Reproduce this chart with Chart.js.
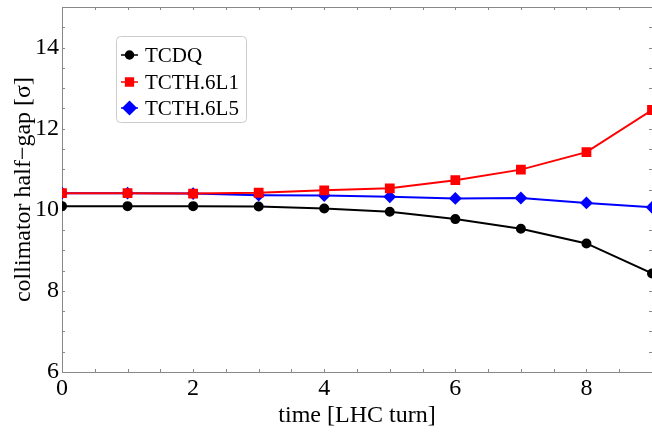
<!DOCTYPE html>
<html>
<head>
<meta charset="utf-8">
<script src="https://cdn.jsdelivr.net/npm/chart.js@4/dist/chart.umd.min.js"></script>
<style>
  html, body { margin: 0; padding: 0; background: #fff; overflow: hidden; }
  canvas { display: block; }
</style>
</head>
<body>
<canvas id="chart" width="652" height="433"></canvas>
<script>
const turns = [0, 1, 2, 3, 4, 5, 6, 7, 8, 9];
const tcdq = [10.09, 10.09, 10.09, 10.08, 10.03, 9.95, 9.77, 9.53, 9.17, 8.43];
const tcth6L1 = [10.41, 10.41, 10.40, 10.42, 10.48, 10.53, 10.73, 10.99, 11.42, 12.46];
const tcth6L5 = [10.41, 10.41, 10.40, 10.36, 10.35, 10.32, 10.28, 10.29, 10.17, 10.06];

const FONT = "'Liberation Serif', 'DejaVu Serif', serif";
const AXIS_GRAY = '#888';

function pts(vals) {
    return turns.map((t, i) => ({ x: t, y: vals[i] }));
}

// frame + short inward ticks every 0.5 on all four sides
const frameTicks = {
    id: 'frameTicks',
    beforeDatasetsDraw(chart) {
        const { ctx, chartArea: a, scales: { x, y } } = chart;
        ctx.save();
        ctx.strokeStyle = AXIS_GRAY;
        ctx.lineWidth = 1;
        ctx.strokeRect(a.left + 0.5, a.top + 0.5, a.right - a.left, a.bottom - a.top);
        ctx.beginPath();
        const len = 3;
        for (let v = 0; v <= 9; v += 0.5) {
            const px = Math.round(x.getPixelForValue(v)) + 0.5;
            ctx.moveTo(px, a.bottom); ctx.lineTo(px, a.bottom - len);
            ctx.moveTo(px, a.top); ctx.lineTo(px, a.top + len);
        }
        for (let v = 6; v <= 15; v += 0.5) {
            const py = Math.round(y.getPixelForValue(v)) + 0.5;
            ctx.moveTo(a.left, py); ctx.lineTo(a.left + len, py);
            ctx.moveTo(a.right, py); ctx.lineTo(a.right - len, py);
        }
        ctx.stroke();
        ctx.restore();
    }
};

// legend box inside the plot, top-left
const boxLegend = {
    id: 'boxLegend',
    afterDatasetsDraw(chart) {
        const { ctx } = chart;
        const bx = 116, by = 36, bw = 130, bh = 86;
        ctx.save();
        ctx.beginPath();
        ctx.roundRect(bx + 0.5, by + 0.5, bw, bh, 4);
        ctx.fillStyle = '#fff';
        ctx.fill();
        ctx.strokeStyle = '#cccccc';
        ctx.lineWidth = 1;
        ctx.stroke();
        const rows = [55, 82, 108];
        const sizes = [4, 5.5, 6.5];
        chart.data.datasets.forEach((ds, i) => {
            const yy = rows[i];
            ctx.strokeStyle = ds.borderColor;
            ctx.lineWidth = 1.5;
            ctx.beginPath();
            ctx.moveTo(121, yy); ctx.lineTo(138, yy);
            ctx.stroke();
            ctx.fillStyle = ds.backgroundColor;
            ctx.strokeStyle = ds.borderColor;
            Chart.helpers.drawPoint(ctx, { pointStyle: ds.pointStyle, radius: sizes[i], rotation: 0, borderWidth: 1 }, 129.5, yy);
            ctx.fillStyle = '#000';
            ctx.font = '21px ' + FONT;
            ctx.textBaseline = 'middle';
            ctx.textAlign = 'left';
            ctx.fillText(ds.label, 145, yy + 1);
        });
        ctx.restore();
    }
};

function noPad(s) {
    s.paddingLeft = 0; s.paddingRight = 0;
    s.paddingTop = 0; s.paddingBottom = 0;
}

new Chart(document.getElementById('chart'), {
    type: 'line',
    data: {
        datasets: [{
            label: 'TCDQ',
            data: pts(tcdq),
            borderColor: '#000000',
            backgroundColor: '#000000',
            pointStyle: 'circle',
            pointRadius: 4,
            borderWidth: 2
        }, {
            label: 'TCTH.6L1',
            data: pts(tcth6L1),
            borderColor: '#ff0000',
            backgroundColor: '#ff0000',
            pointStyle: 'rect',
            pointRadius: 5.5,
            borderWidth: 2
        }, {
            label: 'TCTH.6L5',
            data: pts(tcth6L5),
            borderColor: '#0000ff',
            backgroundColor: '#0000ff',
            pointStyle: 'rectRot',
            pointRadius: 5,
            borderWidth: 2
        }]
    },
    options: {
        responsive: false,
        animation: false,
        devicePixelRatio: 1,
        layout: { autoPadding: false, padding: { top: 7, right: 0, left: 0, bottom: 0 } },
        plugins: {
            legend: { display: false },
            tooltip: { enabled: false }
        },
        scales: {
            x: {
                type: 'linear',
                min: 0,
                max: 9,
                afterFit: s => { s.height = 61; noPad(s); },
                grid: { drawOnChartArea: false, drawTicks: false },
                border: { display: false },
                ticks: {
                    stepSize: 2,
                    includeBounds: false,
                    color: '#000',
                    padding: 2,
                    maxRotation: 0,
                    font: { family: FONT, size: 24 }
                },
                title: {
                    display: true,
                    text: 'time [LHC turn]',
                    color: '#000',
                    padding: { bottom: 3, top: 0 },
                    font: { family: FONT, size: 24 }
                }
            },
            y: {
                min: 6,
                max: 15,
                afterFit: s => { s.width = 62; noPad(s); },
                grid: { drawOnChartArea: false, drawTicks: false },
                border: { display: false },
                ticks: {
                    stepSize: 2,
                    includeBounds: false,
                    color: '#000',
                    padding: 3,
                    font: { family: FONT, size: 24 }
                },
                title: {
                    display: true,
                    text: 'collimator half\u2212gap [\u03c3]',
                    color: '#000',
                    padding: { top: 9, bottom: 0 },
                    font: { family: FONT, size: 24 }
                }
            }
        }
    },
    plugins: [frameTicks, boxLegend]
});
</script>
</body>
</html>
